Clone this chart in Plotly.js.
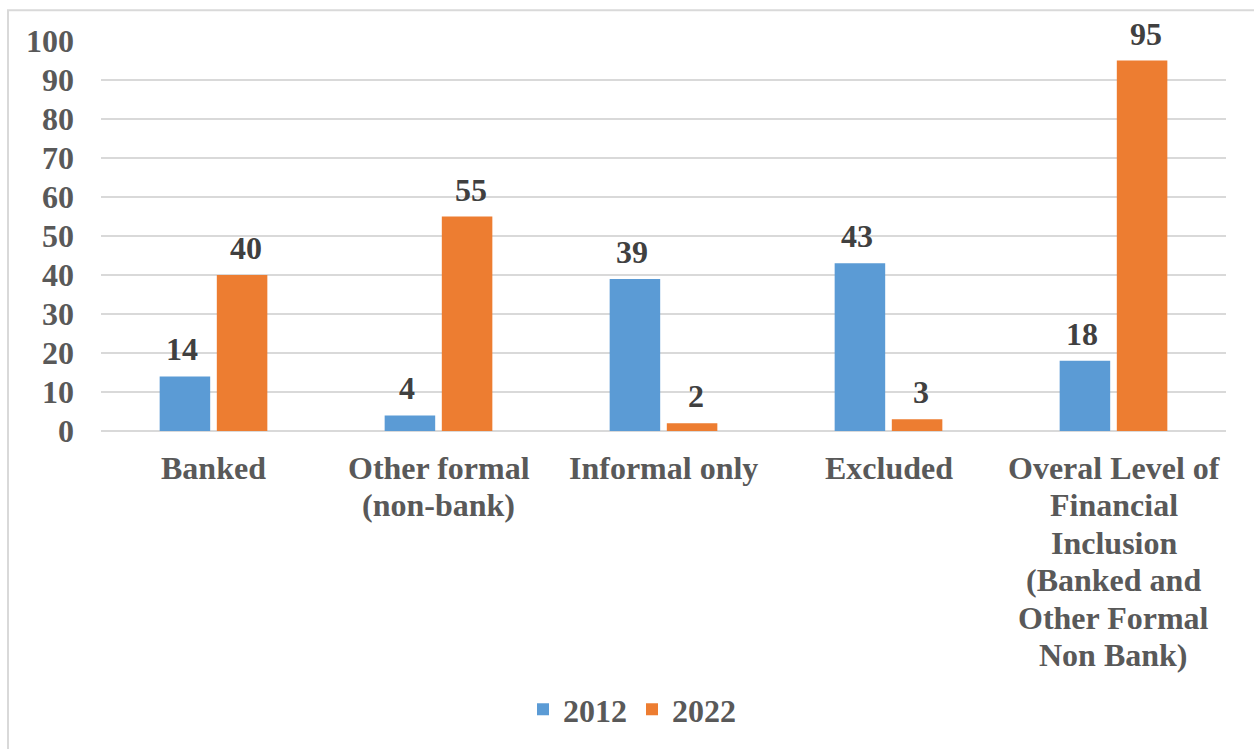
<!DOCTYPE html>
<html>
<head>
<meta charset="utf-8">
<script src="https://cdn.plot.ly/plotly-3.0.1.min.js"></script>
<style>
  html, body { margin: 0; padding: 0; background: #ffffff; }
  #chart { width: 1254px; height: 749px; }
</style>
</head>
<body>
<div id="chart"></div>
<script>
const categories = [
  "Banked",
  "Other formal (non-bank)",
  "Informal only",
  "Excluded",
  "Overal Level of Financial Inclusion (Banked and Other Formal Non Bank)"
];
const categoryLines = [
  ["Banked"],
  ["Other formal", "(non-bank)"],
  ["Informal only"],
  ["Excluded"],
  ["Overal Level of", "Financial", "Inclusion", "(Banked and", "Other Formal", "Non Bank)"]
];
const values2012 = [14, 4, 39, 43, 18];
const values2022 = [40, 55, 2, 3, 95];
const seriesNames = ["2012", "2022"];
const yTicks = [0, 10, 20, 30, 40, 50, 60, 70, 80, 90, 100];

const FONT = "Liberation Serif";
const SIZE = 32;
const axisGray = "#595959";
const labelGray = "#404040";
const colors = ["#5B9BD5", "#ED7D31"];

const traces = [
  { type: "bar", name: seriesNames[0], x: categories, y: values2012,
    marker: { color: colors[0] }, hoverinfo: "y" },
  { type: "bar", name: seriesNames[1], x: categories, y: values2022,
    marker: { color: colors[1] }, hoverinfo: "y" }
];

const annotations = [];
[values2012, values2022].forEach((vals, s) => {
  vals.forEach((v, i) => {
    annotations.push({
      x: categories[i], y: v, xref: "x", yref: "y",
      text: String(v), showarrow: false,
      xshift: s === 0 ? -32 : 32, yshift: 27,
      yanchor: "middle", xanchor: "center",
      font: { family: FONT, size: SIZE, color: labelGray, weight: 700 }
    });
  });
});
// category labels, one annotation per line (Times-like 1.15 line spacing)
categoryLines.forEach((lines, i) => {
  lines.forEach((line, k) => {
    annotations.push({
      x: categories[i], y: 0, xref: "x", yref: "y",
      text: line, showarrow: false,
      yanchor: "middle", xanchor: "center",
      yshift: -(37 + k * 37.4),
      font: { family: FONT, size: SIZE, color: axisGray, weight: 700 }
    });
  });
});

const layout = {
  width: 1254, height: 749,
  margin: { l: 101, r: 28, t: 41, b: 316 },
  paper_bgcolor: "#ffffff", plot_bgcolor: "#ffffff",
  barmode: "group", bargap: 0.492, bargroupgap: 0.116,
  font: { family: FONT, size: SIZE, color: axisGray, weight: 700 },
  showlegend: true,
  legend: {
    orientation: "h", x: 0.472, xanchor: "center", y: -0.714, yanchor: "middle",
    font: { family: FONT, size: SIZE, color: axisGray, weight: 700 },
    bgcolor: "rgba(0,0,0,0)", itemwidth: 30
  },
  xaxis: {
    type: "category", showgrid: false, zeroline: false, showline: false,
    ticks: "", showticklabels: false
  },
  yaxis: {
    range: [0, 100], tickvals: yTicks, ticktext: yTicks.map(String),
    showgrid: true, gridcolor: "#d9d9d9", gridwidth: 1.5,
    zeroline: true, zerolinecolor: "#d9d9d9", zerolinewidth: 1.5,
    showline: false, ticks: "", ticklabelstandoff: 26,
    tickfont: { family: FONT, size: SIZE, color: axisGray, weight: 700 }
  },
  annotations: annotations,
  shapes: [{
    type: "rect", xref: "paper", yref: "paper", layer: "below",
    x0: (8 - 101) / 1125, x1: 1.5, y0: -2, y1: (433 - 10) / 392,
    line: { color: "#d9d9d9", width: 2 }, fillcolor: "rgba(0,0,0,0)"
  }]
};

Plotly.newPlot("chart", traces, layout, { displayModeBar: false, responsive: false });
</script>
</body>
</html>
